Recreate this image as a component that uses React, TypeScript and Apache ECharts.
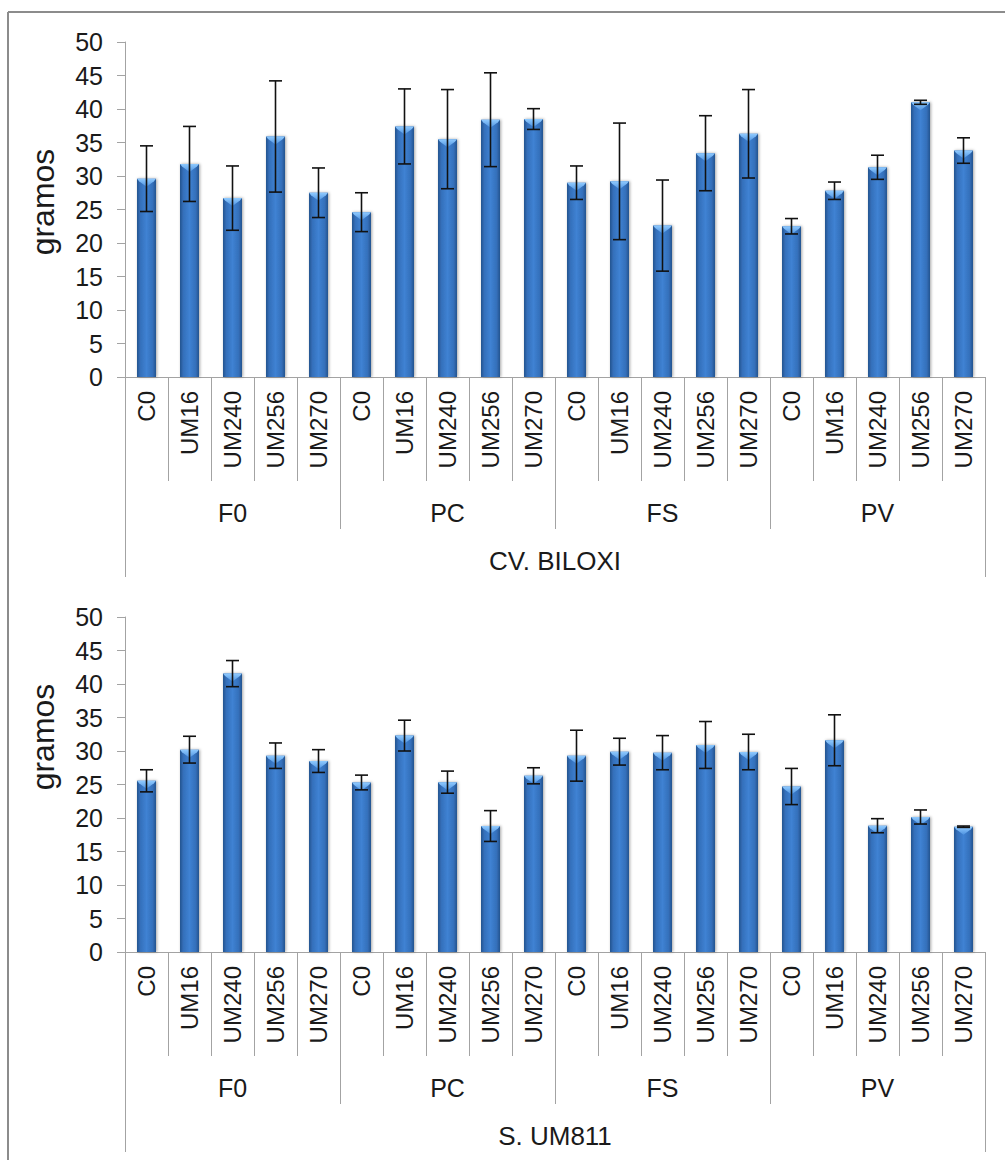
import React, { useEffect, useRef } from "react";
import * as echarts from "echarts";

const groups = ["F0", "PC", "FS", "PV"];
const subCats = ["C0", "UM16", "UM240", "UM256", "UM270"];
const topTitle = "CV. BILOXI";
const bottomTitle = "S. UM811";
const yTicks = { min: 0, max: 50, interval: 5 };

const biloxiMeans = [29.6, 31.8, 26.7, 35.9, 27.5, 24.6, 37.4, 35.5, 38.4, 38.5, 29.0, 29.2, 22.6, 33.4, 36.3, 22.5, 27.8, 31.3, 41.0, 33.8];
const biloxiErrs = [4.9, 5.6, 4.8, 8.3, 3.7, 2.9, 5.6, 7.4, 7.0, 1.55, 2.5, 8.7, 6.8, 5.6, 6.6, 1.15, 1.3, 1.8, 0.3, 1.9];

const um811Means = [25.55, 30.2, 41.55, 29.3, 28.5, 25.3, 32.3, 25.35, 18.8, 26.3, 29.3, 29.9, 29.75, 30.9, 29.85, 24.7, 31.6, 18.85, 20.15, 18.7];
const um811Errs = [1.65, 2.0, 1.95, 1.9, 1.7, 1.1, 2.3, 1.65, 2.3, 1.2, 3.8, 2.0, 2.55, 3.5, 2.65, 2.7, 3.8, 1.05, 1.05, 0.1];

const FONT = "'Liberation Sans', Arial, sans-serif";
const GRAY = "#a3a3a3";
const TEXT = "#1a1a1a";

const categories: string[] = [];
groups.forEach(() => subCats.forEach((s) => categories.push(s)));

const barFill = new echarts.graphic.LinearGradient(0, 0, 1, 0, [
  { offset: 0, color: "#25548f" },
  { offset: 0.18, color: "#3470bb" },
  { offset: 0.5, color: "#3f82d3" },
  { offset: 0.82, color: "#3470bb" },
  { offset: 1, color: "#25548f" },
]);

const hiFill = new echarts.graphic.LinearGradient(0, 0, 0, 1, [
  { offset: 0, color: "#8fcaff" },
  { offset: 1, color: "#4f93e0" },
]);

function errRender(params: any, api: any) {
  const x = api.value(0);
  const v = api.value(1);
  const e = api.value(2);
  const mid = api.coord([x, v]);
  const top = api.coord([x, v + e]);
  const bot = api.coord([x, v - e]);
  const bw = api.size([1, 0])[0] * 0.44;
  const cap = 6.5;
  const stroke = { stroke: "#111", lineWidth: 1.6 };
  return {
    type: "group",
    children: [
      {
        type: "polygon",
        shape: {
          points: [
            [mid[0] - bw / 2, mid[1]],
            [mid[0] + bw / 2, mid[1]],
            [mid[0] + bw / 2 - 2, mid[1] + 2.5],
            [mid[0], mid[1] + 8],
            [mid[0] - bw / 2 + 2, mid[1] + 2.5],
          ],
        },
        style: { fill: hiFill },
      },
      { type: "line", shape: { x1: top[0], y1: top[1], x2: bot[0], y2: bot[1] }, style: stroke },
      { type: "line", shape: { x1: top[0] - cap, y1: top[1], x2: top[0] + cap, y2: top[1] }, style: stroke },
      { type: "line", shape: { x1: bot[0] - cap, y1: bot[1], x2: bot[0] + cap, y2: bot[1] }, style: stroke },
    ],
  };
}

function makeAxes(gridIndex: number, title: string) {
  const base = { type: "category", gridIndex, position: "bottom" };
  return [
    {
      ...base,
      data: categories,
      axisLine: { show: true, lineStyle: { color: GRAY, width: 1 } },
      axisTick: { show: true, interval: 0, length: 104, lineStyle: { color: GRAY } },
      axisLabel: { interval: 0, rotate: 90, margin: 14, fontSize: 24, color: TEXT, fontFamily: FONT },
    },
    {
      ...base,
      data: groups,
      axisLine: { show: false },
      axisTick: { show: true, interval: 0, length: 152, lineStyle: { color: GRAY } },
      axisLabel: { interval: 0, margin: 123, fontSize: 25, color: TEXT, fontFamily: FONT },
    },
    {
      ...base,
      data: [title],
      axisLine: { show: false },
      axisTick: { show: true, interval: 0, length: 200, lineStyle: { color: GRAY } },
      axisLabel: { interval: 0, margin: 171, fontSize: 26, color: TEXT, fontFamily: FONT },
    },
  ];
}

function makeY(gridIndex: number) {
  return {
    type: "value",
    gridIndex,
    min: yTicks.min,
    max: yTicks.max,
    interval: yTicks.interval,
    splitLine: { show: false },
    axisLine: { show: true, lineStyle: { color: GRAY } },
    axisTick: { show: true, length: 8, lineStyle: { color: GRAY } },
    axisLabel: { margin: 22, fontSize: 25, color: TEXT, fontFamily: FONT },
  };
}

function seriesFor(idx: number, means: number[], errs: number[]) {
  return [
    {
      type: "bar",
      xAxisIndex: idx * 3,
      yAxisIndex: idx,
      data: means,
      barWidth: 19,
      itemStyle: {
        color: barFill,
        shadowBlur: 3,
        shadowColor: "rgba(0,0,0,0.35)",
        shadowOffsetX: 1,
        shadowOffsetY: 0,
      },
    },
    {
      type: "custom",
      xAxisIndex: idx * 3,
      yAxisIndex: idx,
      renderItem: errRender,
      encode: { x: 0, y: 1 },
      data: means.map((m, i) => [i, m, errs[i]]),
      z: 5,
    },
  ];
}

export default function App() {
  const ref = useRef<HTMLDivElement>(null);
  useEffect(() => {
    if (!ref.current) return;
    const chart = echarts.init(ref.current, null, { renderer: "svg" });
    chart.setOption({
      animation: false,
      backgroundColor: "#ffffff",
      grid: [
        { left: 125, top: 42, width: 860, height: 335 },
        { left: 125, top: 617, width: 860, height: 335 },
      ],
      xAxis: [...makeAxes(0, topTitle), ...makeAxes(1, bottomTitle)],
      yAxis: [makeY(0), makeY(1)],
      series: [...seriesFor(0, biloxiMeans, biloxiErrs), ...seriesFor(1, um811Means, um811Errs)],
      graphic: [
        { type: "line", shape: { x1: 8, y1: 12, x2: 8, y2: 1160 }, style: { stroke: "#8c8c8c", lineWidth: 2 } },
        { type: "line", shape: { x1: 8, y1: 12, x2: 1005, y2: 12 }, style: { stroke: "#8c8c8c", lineWidth: 2 } },
        {
          type: "text",
          x: 43,
          y: 202,
          rotation: Math.PI / 2,
          style: { text: "gramos", fontSize: 32, fontFamily: FONT, fill: TEXT, align: "center", verticalAlign: "middle" },
        },
        {
          type: "text",
          x: 43,
          y: 737,
          rotation: Math.PI / 2,
          style: { text: "gramos", fontSize: 32, fontFamily: FONT, fill: TEXT, align: "center", verticalAlign: "middle" },
        },
      ],
    });
    return () => chart.dispose();
  }, []);
  return <div ref={ref} style={{ position: "absolute", left: 0, top: 0, width: 1005, height: 1160 }} />;
}
